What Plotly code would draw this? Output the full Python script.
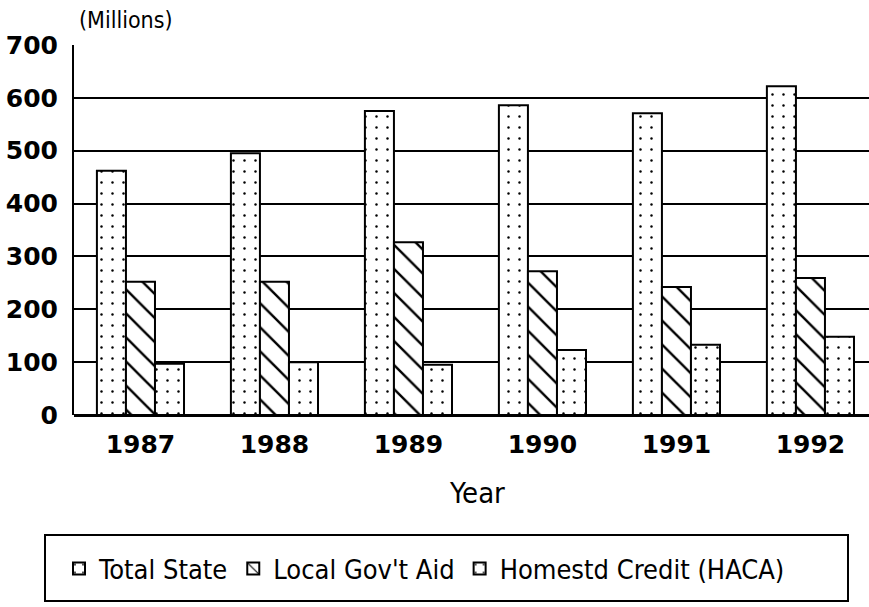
import plotly.graph_objects as go

years = ["1987", "1988", "1989", "1990", "1991", "1992"]
total_state = [462, 495, 575, 586, 571, 622]
local_aid = [252, 252, 327, 272, 242, 259]
haca = [97, 100, 95, 123, 133, 148]
series_names = ["Total State", "Local Gov't Aid", "Homestd Credit (HACA)"]
y_ticks = [0, 100, 200, 300, 400, 500, 600, 700]

W, H = 869, 607
ML, MR, MT, MB = 74, 0, 45, 192
PW, PH = W - ML - MR, H - MT - MB

def px(x):
    return (x - ML) / PW

def py(y):
    return (H - MB - y) / PH

NARROW = "Liberation Sans Narrow, DejaVu Sans Condensed, DejaVu Sans, Arial"
BOLD = "DejaVu Sans, Arial Black, sans-serif"

patterns = [
    dict(shape=".", size=11, solidity=0.04, fgcolor="black", bgcolor="white",
         fgopacity=1, fillmode="overlay"),
    dict(shape="\\", size=17, solidity=0.14, fgcolor="black", bgcolor="white",
         fgopacity=1, fillmode="overlay"),
    dict(shape=".", size=11, solidity=0.04, fgcolor="black", bgcolor="white",
         fgopacity=1, fillmode="overlay"),
]

fig = go.Figure()
for name, vals, pat in zip(series_names, [total_state, local_aid, haca], patterns):
    fig.add_trace(go.Bar(
        x=years, y=vals, name=name,
        marker=dict(color="white", line=dict(color="black", width=2), pattern=pat),
    ))

fig.update_layout(
    width=W, height=H,
    margin=dict(l=ML, r=MR, t=MT, b=MB),
    paper_bgcolor="white", plot_bgcolor="white",
    barmode="group", bargap=0.35, bargroupgap=0,
    showlegend=True,
    legend=dict(
        orientation="h", x=px(59), xanchor="left", y=py(569), yanchor="middle",
        font=dict(family=NARROW, size=27, color="black"),
        bgcolor="rgba(0,0,0,0)", borderwidth=0, itemwidth=30,
        traceorder="normal",
    ),
    xaxis=dict(
        type="category", range=[-0.496, 5.437],
        showgrid=False, showline=False, ticks="",
        tickfont=dict(family=BOLD, size=25, color="black", weight="bold"),
        ticklabelstandoff=12,
    ),
    yaxis=dict(
        range=[0, 700], tickvals=y_ticks,
        showgrid=True, gridcolor="black", gridwidth=1.5,
        showline=True, linecolor="black", linewidth=2,
        zeroline=True, zerolinecolor="black", zerolinewidth=2.5,
        ticks="", ticklabelstandoff=9,
        tickfont=dict(family=BOLD, size=25, color="black", weight="bold"),
    ),
    shapes=[dict(
        type="rect", xref="paper", yref="paper",
        x0=px(45), x1=px(848), y0=py(535), y1=py(601),
        line=dict(color="black", width=2), fillcolor="rgba(0,0,0,0)", layer="below",
    )],
    annotations=[
        dict(text="(Millions)", xref="paper", yref="paper", x=px(77), y=py(20),
             xanchor="left", yanchor="middle", showarrow=False,
             font=dict(family=NARROW, size=23, color="black")),
        dict(text="Year", xref="paper", yref="paper", x=px(477), y=py(493),
             xanchor="center", yanchor="middle", showarrow=False,
             font=dict(family=NARROW, size=29, color="black")),
    ],
)

fig.write_html(
    "out.html",
    config={"displayModeBar": False},
    post_script="document.body.style.margin='0';document.body.style.overflow='hidden';",
)
